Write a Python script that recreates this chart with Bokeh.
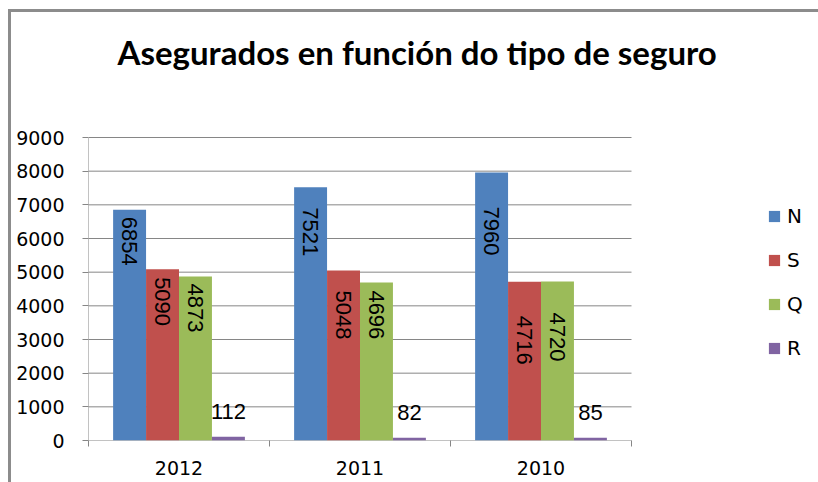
import math
from bokeh.plotting import figure
from bokeh.models import (Range1d, FixedTicker, Legend, LegendItem, Label,
                          ColumnDataSource)
from bokeh.core.properties import value
from bokeh.embed import file_html
from bokeh.resources import INLINE

# ---- data ----
years = ["2012", "2011", "2010"]
series_names = ["N", "S", "Q", "R"]
N = [6854, 7521, 7960]
S = [5090, 5048, 4716]
Q = [4873, 4696, 4720]
R = [112, 82, 85]
y_ticks = [0, 1000, 2000, 3000, 4000, 5000, 6000, 7000, 8000, 9000]
y_max = 9000
title_text = "Asegurados en función do tipo de seguro"

# ---- style / layout ----
colors = ["#4F81BD", "#C0504D", "#9BBB59", "#8064A2"]
gray = "#868686"
bar_w = 0.182
W, H = 810, 473
left_px, bottom_px = 80, 42          # axis panels
plot_w_px, plot_top_px = 543, 128    # chart area inside the frame
frame_w = W - left_px
frame_h = H - bottom_px
x_end = len(years) * frame_w / plot_w_px
y_end = y_max * frame_h / (frame_h - plot_top_px)

# manual label displacement (pixels below bar top) as in the original chart
label_shift = {
    "N": [7, 20, 34],
    "S": [8, 20, 34],
    "Q": [7, 8, 31],
}
r_label_lift = 25


def dx(px):  # frame pixel -> data x
    return px / frame_w * x_end


def dy(py_from_top):  # canvas pixel from top -> data y
    return (frame_h - py_from_top) / frame_h * y_end


p = figure(width=W, height=H, output_backend="svg", toolbar_location=None,
           x_range=Range1d(0, x_end), y_range=Range1d(0, y_end),
           min_border_left=left_px, min_border_right=0, min_border_top=0,
           min_border_bottom=bottom_px, tools="")
p.styles = {"margin-left": "8px", "margin-top": "9px",
            "box-shadow": "inset 3px 3px 0 0 #8c8c8c"}
p.border_fill_color = None
p.background_fill_color = None
p.outline_line_color = None

# axes
xa = p.xaxis[0]
xa.ticker = FixedTicker(ticks=[i + 0.5 for i in range(len(years))],
                        minor_ticks=list(range(len(years) + 1)))
xa.major_label_overrides = {i + 0.5: y for i, y in enumerate(years)}
xa.major_tick_line_color = None
xa.major_tick_out = 0
xa.major_tick_in = 0
xa.minor_tick_out = 6
xa.minor_tick_in = 0
xa.minor_tick_line_color = gray
xa.axis_line_color = None
xa.major_label_text_font = "DejaVu Sans"
xa.major_label_text_font_size = "19px"
xa.major_label_text_color = "black"
xa.major_label_standoff = 14

ya = p.yaxis[0]
ya.ticker = FixedTicker(ticks=y_ticks, minor_ticks=[])
ya.major_tick_out = 6
ya.major_tick_in = 0
ya.major_tick_line_color = gray
ya.minor_tick_line_color = None
ya.axis_line_color = None
ya.major_label_text_font = "DejaVu Sans"
ya.major_label_text_font_size = "19px"
ya.major_label_text_color = "black"
ya.major_label_standoff = 18

p.xgrid.grid_line_color = None
p.ygrid.grid_line_color = None

# gridlines and axis line of the plot area
p.segment(x0=[0] * len(y_ticks), x1=[len(years)] * len(y_ticks),
          y0=y_ticks, y1=y_ticks, line_color=gray, line_width=1)
p.segment(x0=[0], x1=[0], y0=[0], y1=[y_max], line_color=gray, line_width=1)

# bars
all_series = [N, S, Q, R]
renderers = []
for k, (name, vals) in enumerate(zip(series_names, all_series)):
    xs = [i + 0.5 + (k - 1.5) * bar_w for i in range(len(years))]
    src = ColumnDataSource(dict(x=xs, top=vals, txt=[str(v) for v in vals]))
    r = p.vbar(x="x", top="top", width=bar_w, bottom=0, source=src,
               fill_color=colors[k], line_color=None)
    renderers.append(r)
    if name in label_shift:
        src.data["off"] = label_shift[name]
        p.text(x="x", y="top", text="txt", source=src, angle=-math.pi / 2,
               y_offset="off", text_align="left", text_baseline="middle",
               text_font=value("Liberation Sans"), text_font_size="22px",
               text_color="black")
    else:
        p.text(x="x", y="top", text="txt", source=src, angle=0,
               y_offset=-r_label_lift, text_align="center",
               text_baseline="alphabetic",
               text_font=value("Liberation Sans"), text_font_size="22px",
               text_color="black")

# legend
legend = Legend(items=[LegendItem(label=n, renderers=[r])
                       for n, r in zip(series_names, renderers)],
                location=(679, 80), orientation="vertical")
legend.glyph_width = 14
legend.glyph_height = 14
legend.label_height = 14
legend.label_width = 20
legend.spacing = 20
legend.padding = 0
legend.margin = 0
legend.label_standoff = 6
legend.border_line_color = None
legend.background_fill_color = None
legend.background_fill_alpha = 0
legend.label_text_font = "DejaVu Sans"
legend.label_text_font_size = "20px"
legend.label_text_baseline = "middle"
legend.label_text_color = "black"
p.add_layout(legend, "center")

# title
p.add_layout(Label(x=dx(29), y=dy(42), text=title_text,
                   text_font="Lato", text_font_style="bold",
                   text_font_size="33px", text_baseline="alphabetic",
                   text_color="black"))

open("out.html", "w").write(file_html(p, INLINE))
